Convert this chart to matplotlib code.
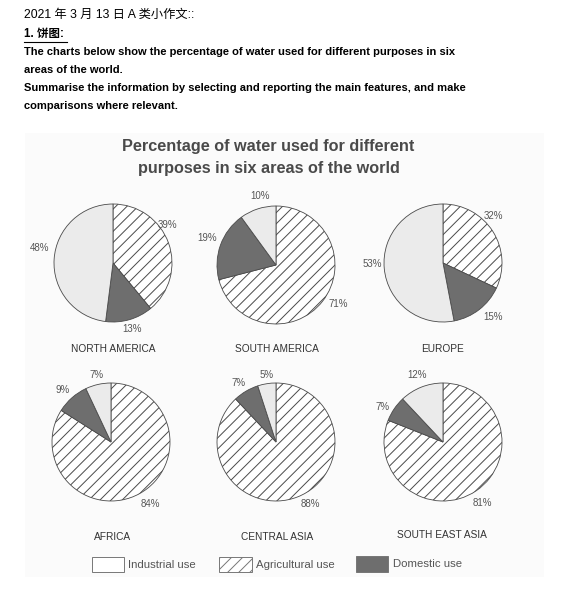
import matplotlib
matplotlib.use("Agg")
import matplotlib.pyplot as plt
from matplotlib.patches import Rectangle
from matplotlib.lines import Line2D

plt.rcParams['font.family'] = ['Liberation Sans', 'Noto Sans CJK SC', 'DejaVu Sans']
plt.rcParams['hatch.linewidth'] = 0.7

W, H = 562, 609

regions = ['NORTH AMERICA', 'SOUTH AMERICA', 'EUROPE',
           'AFRICA', 'CENTRAL ASIA', 'SOUTH EAST ASIA']
uses = ['Industrial use', 'Agricultural use', 'Domestic use']
industrial = [48, 10, 53, 7, 5, 12]
agricultural = [39, 71, 32, 84, 88, 81]
domestic = [13, 19, 15, 9, 7, 7]

# label positions (pixels) for agri, domestic, industrial labels
label_pos = [
    [(167, 225), (132, 329), (40, 248)],
    [(338, 304), (207, 238), (260, 196)],
    [(493, 216), (493, 317), (372, 264)],
    [(150, 504), (63, 390), (97, 375)],
    [(310, 504), (239, 383), (267, 375)],
    [(482, 503), (383, 407), (417, 375)],
]
centers = [(113, 263), (276, 265), (443, 263), (111, 442), (276, 442), (443, 442)]
name_pos = [(113, 349), (277, 349), (442, 349), (113, 537), (277, 537), (442, 535)]
R = 59

colors = {'ind': '#ebebeb', 'agri': 'white', 'dom': '#6e6e6e'}


def fx(x):
    return x / W


def fy(y):
    return 1 - y / H


fig = plt.figure(figsize=(W / 100, H / 100), dpi=100)
fig.patch.set_facecolor('white')

# faint chart background
fig.patches.append(Rectangle((fx(25), fy(577)), fx(544) - fx(25), fy(133) - fy(577),
                             transform=fig.transFigure, facecolor='#fbfbfb',
                             edgecolor='none', zorder=-5))

# header text
fig.text(fx(24), fy(15), '2021 年 3 月 13 日 A 类小作文::', fontsize=8.8,
         va='center', ha='left', color='black')
fig.text(fx(24), fy(34), '1. 饼图:', fontsize=8.3, fontweight='bold',
         va='center', ha='left', color='black')
fig.lines.append(Line2D([fx(24), fx(67)], [fy(41.5), fy(41.5)], transform=fig.transFigure,
                        color='black', lw=0.8))
body = ['The charts below show the percentage of water used for different purposes in six',
        'areas of the world.',
        'Summarise the information by selecting and reporting the main features, and make',
        'comparisons where relevant.']
for i, line in enumerate(body):
    fig.text(fx(24), fy(52 + 18 * i), line, fontsize=8.05, fontweight='bold',
             va='center', ha='left', color='black')

# chart title
fig.text(fx(268), fy(147), 'Percentage of water used for different', fontsize=11.7,
         fontweight='bold', ha='center', va='center', color='#4a4a4a')
fig.text(fx(269), fy(168), 'purposes in six areas of the world', fontsize=11.7,
         fontweight='bold', ha='center', va='center', color='#4a4a4a')

for i in range(6):
    cx, cy = centers[i]
    ax = fig.add_axes([fx(cx - R - 1), fy(cy + R + 1), (2 * R + 2) / W, (2 * R + 2) / H])
    ax.patch.set_visible(False)
    vals = [agricultural[i], domestic[i], industrial[i]]
    wedges, _ = ax.pie(vals, startangle=90, counterclock=False,
                       colors=[colors['agri'], colors['dom'], colors['ind']],
                       wedgeprops=dict(edgecolor='#4a4a4a', linewidth=0.6))
    wedges[0].set_hatch('///')
    ax.set_xlim(-1.017, 1.017)
    ax.set_ylim(-1.017, 1.017)
    ax.set_aspect('equal')
    for v, (lx, ly) in zip(vals, label_pos[i]):
        fig.text(fx(lx), fy(ly), f'{v}%', fontsize=7, ha='center', va='center',
                 color='#555555')
    nx, ny = name_pos[i]
    fig.text(fx(nx), fy(ny), regions[i], fontsize=7.3, ha='center', va='center',
             color='#333333')

# legend
leg_boxes = [(92, 557, 124, 572), (219, 557, 252, 572), (356, 556, 388, 572)]
leg_text_x = [128, 256, 393]
fills = [colors['ind'], colors['agri'], colors['dom']]
for j in range(3):
    x0, y0, x1, y1 = leg_boxes[j]
    rect = Rectangle((fx(x0), fy(y1)), fx(x1) - fx(x0), fy(y0) - fy(y1),
                     transform=fig.transFigure, facecolor='white' if j == 0 else fills[j],
                     edgecolor='#777777', linewidth=0.7)
    if j == 1:
        rect.set_hatch('///')
    fig.patches.append(rect)
    fig.text(fx(leg_text_x[j]), fy((y0 + y1) / 2), uses[j], fontsize=8.2,
             ha='left', va='center', color='#555555')

fig.savefig('out.png', dpi=100)
